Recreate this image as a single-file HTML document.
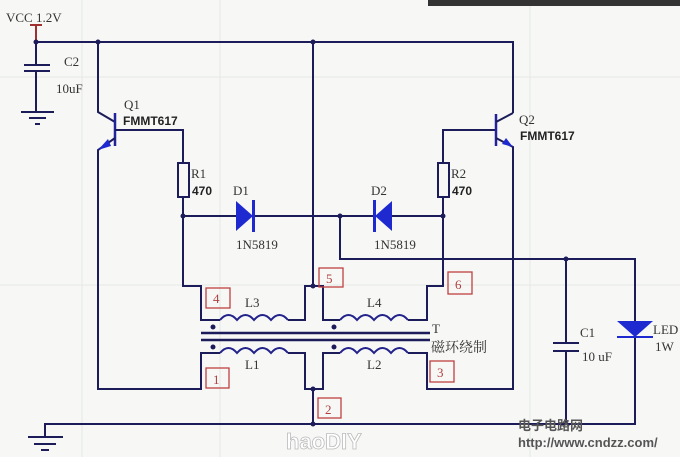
<!DOCTYPE html>
<html><head><meta charset="utf-8"><style>
html,body{margin:0;padding:0;background:#f7f8f6;}
svg{display:block}
text{font-family:"Liberation Serif","Noto Serif CJK SC",serif;}
.b{font-family:"Liberation Sans",sans-serif;font-weight:bold;}
</style></head><body>
<svg width="680" height="457" viewBox="0 0 680 457" xmlns="http://www.w3.org/2000/svg">
<rect width="680" height="457" fill="#f7f8f6"/>
<g stroke="#e6e8e4" stroke-width="1"><line x1="82" y1="0" x2="82" y2="457"/><line x1="220" y1="0" x2="220" y2="457"/><line x1="530" y1="0" x2="530" y2="457"/><line x1="0" y1="77" x2="680" y2="77"/><line x1="0" y1="285" x2="680" y2="285"/></g>
<rect x="428" y="0" width="252" height="6" fill="#333"/>
<g fill="none" stroke="#1c1c5a" stroke-width="2">
<polyline points="36,42 513,42 513,113"/>
<polyline points="36,42 36,65"/><polyline points="36,71 36,112"/>
<line x1="24" y1="65" x2="50" y2="65"/><line x1="24" y1="71" x2="50" y2="71"/>
<line x1="21" y1="112" x2="54" y2="112"/><line x1="29" y1="118" x2="46" y2="118"/><line x1="35" y1="124" x2="40" y2="124"/>
<polyline points="98,42 98,112 115,122"/>
<line x1="115" y1="113" x2="115" y2="146" stroke="#22229a" stroke-width="2.5"/>
<polyline points="115,138 98,150 98,389 201,389 201,353 220,353"/>
<polyline points="115,130 183,130 183,163"/>
<rect x="178" y="163" width="11" height="34" fill="#f7f8f6"/>
<polyline points="183,197 183,286 201,286 201,320 220,320"/>
<line x1="183" y1="216" x2="236" y2="216"/><line x1="253" y1="216" x2="374" y2="216"/><line x1="392" y1="216" x2="443" y2="216"/>
<polyline points="313,42 313,286 305,286 305,320 288,320"/>
<polyline points="313,286 323,286 323,320 340,320"/>
<polyline points="340,216 340,259 635,259 635,321"/>
<polyline points="443,197 443,286 427,286 427,320 408,320"/>
<rect x="438" y="163" width="11" height="34" fill="#f7f8f6"/>
<polyline points="443,163 443,130 496,130"/>
<line x1="496" y1="114" x2="496" y2="146" stroke="#22229a" stroke-width="2.5"/>
<polyline points="496,122 513,113"/>
<polyline points="496,138 513,147 513,389 427,389 427,353 408,353"/>
<polyline points="288,353 305,353 305,389 323,389 323,353 340,353"/>
<polyline points="313,389 313,424"/>
<polyline points="45,437 45,424 635,424 635,337"/>
<line x1="28" y1="437" x2="63" y2="437"/><line x1="34" y1="444" x2="56" y2="444"/><line x1="41" y1="450" x2="49" y2="450"/>
<polyline points="566,259 566,343"/><polyline points="566,351 566,424"/>
<line x1="553" y1="343" x2="579" y2="343"/><line x1="553" y1="351" x2="579" y2="351"/>
<line x1="617" y1="337" x2="653" y2="337" stroke="#1e2ad0"/>
<line x1="201" y1="333" x2="430" y2="333" stroke-width="2.5"/><line x1="201" y1="340" x2="430" y2="340" stroke-width="2.5"/>
</g>
<g fill="none" stroke="#22228a" stroke-width="2">
<path d="M220,320 q8.5,-10 17,0 q8.5,-10 17,0 q8.5,-10 17,0 q8.5,-10 17,0"/>
<path d="M340,320 q8.5,-10 17,0 q8.5,-10 17,0 q8.5,-10 17,0 q8.5,-10 17,0"/>
<path d="M220,353 q8.5,-10 17,0 q8.5,-10 17,0 q8.5,-10 17,0 q8.5,-10 17,0"/>
<path d="M340,353 q8.5,-10 17,0 q8.5,-10 17,0 q8.5,-10 17,0 q8.5,-10 17,0"/>
</g>
<line x1="36" y1="25" x2="36" y2="42" stroke="#a03030" stroke-width="2"/>
<line x1="30" y1="25" x2="42" y2="25" stroke="#a03030" stroke-width="2"/>
<g fill="#1e2ad0">
<polygon points="236,201 236,231 253,216"/><rect x="252" y="200" width="3" height="32"/>
<polygon points="392,201 392,231 375,216"/><rect x="373" y="200" width="3" height="32"/>
<polygon points="617,321 653,321 635,337"/>
<polygon points="98,150 108,139 111,146"/>
<polygon points="513,147 502,144 506,138"/>
</g>
<g fill="#1c1c5a">
<circle cx="36" cy="42" r="2.5"/><circle cx="98" cy="42" r="2.5"/><circle cx="313" cy="42" r="2.5"/>
<circle cx="183" cy="216" r="2.5"/><circle cx="340" cy="216" r="2.5"/><circle cx="443" cy="216" r="2.5"/>
<circle cx="313" cy="286" r="2.5"/><circle cx="313" cy="389" r="2.5"/><circle cx="313" cy="424" r="2.5"/>
<circle cx="566" cy="259" r="2.5"/>
<circle cx="213" cy="327" r="2.5"/><circle cx="334" cy="327" r="2.5"/><circle cx="213" cy="347" r="2.5"/><circle cx="334" cy="347" r="2.5"/>
</g>
<g fill="none" stroke="#c04040" stroke-width="1.3">
<rect x="206" y="288" width="24" height="20"/><rect x="319" y="268" width="24" height="19"/><rect x="448" y="272" width="24" height="22"/>
<rect x="206" y="368" width="23" height="20"/><rect x="318" y="398" width="23" height="20"/><rect x="430" y="361" width="24" height="21"/>
</g>
<g fill="#b04040" font-size="13">
<text x="213" y="303">4</text><text x="326" y="283">5</text><text x="455" y="289">6</text>
<text x="213" y="384">1</text><text x="325" y="414">2</text><text x="437" y="377">3</text>
</g>
<g fill="#333" font-size="13">
<text x="6" y="22">VCC 1.2V</text><text x="64" y="66">C2</text><text x="56" y="93">10uF</text>
<text x="124" y="109">Q1</text><text x="519" y="124">Q2</text>
<text x="191" y="178">R1</text><text x="451" y="178">R2</text>
<text x="233" y="195">D1</text><text x="371" y="195">D2</text>
<text x="236" y="249">1N5819</text><text x="374" y="249">1N5819</text>
<text x="245" y="307">L3</text><text x="367" y="307">L4</text><text x="245" y="369">L1</text><text x="367" y="369">L2</text>
<text x="432" y="333">T</text><text x="431" y="352" font-size="14">磁环绕制</text>
<text x="580" y="337">C1</text><text x="582" y="361">10 uF</text>
<text x="653" y="334">LED</text><text x="655" y="351">1W</text>
</g>
<g fill="#222" font-size="12" class="b">
<text x="123" y="125" class="b">FMMT617</text><text x="520" y="140" class="b">FMMT617</text>
<text x="192" y="195" class="b">470</text><text x="452" y="195" class="b">470</text>
</g>
<text x="518" y="430" font-size="13" fill="#555" class="b" style="font-family:'Noto Sans CJK SC',sans-serif">电子电路网</text>
<text x="518" y="447" font-size="13" fill="#555" class="b">http://www.cndzz.com/</text>
<text x="286" y="449" font-size="22" fill="#fff" stroke="#bbb" stroke-width="0.8" class="b">haoDIY</text>
</svg>
</body></html>
